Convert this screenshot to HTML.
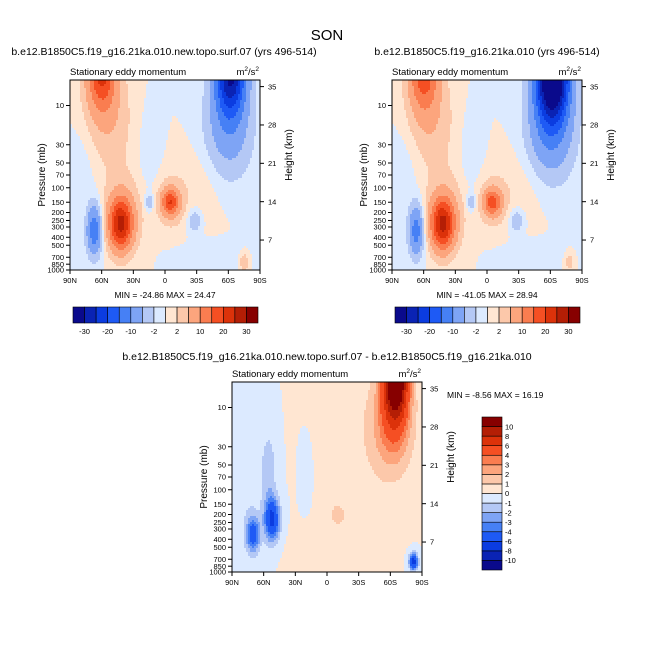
<!DOCTYPE html>
<html><head><meta charset="utf-8"><style>
body{margin:0;background:#fff}
svg{display:block;font-family:"Liberation Sans",Arial,sans-serif}
</style></head><body>
<svg id="root" width="654" height="654" viewBox="0 0 654 654">
<text x="327" y="40" font-size="15" text-anchor="middle">SON</text>
</svg>
<script>
// ----- data -----
const latTicks = [90, 60, 30, 0, -30, -60, -90];
const latTickLabels = ["90N", "60N", "30N", "0", "30S", "60S", "90S"];
const presTicks = [10, 30, 50, 70, 100, 150, 200, 250, 300, 400, 500, 700, 850, 1000];
const heightTicks = [7, 14, 21, 28, 35];
const topLevels = [-30, -25, -20, -15, -10, -5, -2, 0, 2, 5, 10, 15, 20, 25, 30];
const topLevelLabels = ["-30", "-20", "-10", "-2", "2", "10", "20", "30"];
const diffLevels = [-10, -8, -6, -4, -3, -2, -1, 0, 1, 2, 3, 4, 6, 8, 10];
const palette = ["#0a0a8c","#0a23b4","#0b3ce0","#1e5af5","#4680f5","#7ea4f5","#b4c8f5","#dceaff",
                 "#ffe6d2","#fcc8aa","#fca57d","#fa7d50","#f54f23","#dc320a","#b41e05","#870000"];
// anomaly features: [lat, pressure(mb), amplitude, latWidth, logPressureWidth]
const leftFeatures = [
 [60,4,20,13,0.42],[55,15,5,22,0.6],[-62,4,-30,14,0.5],[-60,20,-7,22,0.6],
 [67,330,-14,7,0.3],[42,280,23,11,0.3],[40,200,5,18,0.45],[-5,150,16,8,0.15],
 [-5,150,4,13,0.3],[15,150,-5,4,0.1],[-28,250,-4.5,7,0.15],[-75,800,5,4,0.1],
 [75,40,-1.5,18,0.5],[15,40,-1.2,12,0.6],[-30,100,1.5,28,0.5],[-40,700,-1.2,28,0.2]];
const rightFeatures = [
 [60,4,17,13,0.42],[55,15,5,22,0.6],[-62,4,-44,15,0.55],[-60,20,-9,22,0.6],
 [67,330,-13,7,0.3],[42,280,23,11,0.3],[40,200,5,18,0.45],[-5,150,14,8,0.15],
 [-5,150,4,13,0.3],[15,150,-5,4,0.1],[-28,250,-4.5,7,0.15],[-78,800,4,4,0.1],
 [75,40,-1.5,18,0.5],[15,40,-1.2,12,0.6],[-30,100,1.5,28,0.5],[-40,700,-1.2,28,0.2]];
const diffFeatures = [
 [-65,4,14,11,0.5],[-62,15,3.5,19,0.6],[52,230,-6.5,7,0.25],[70,350,-5,6,0.2],
 [55,60,-1.6,7,0.5],[-82,750,-7,4,0.1],[-10,200,1.2,8,0.15],[-30,30,0.6,35,1],
 [75,100,-0.8,15,1],[-10,600,0.6,35,0.3],[20,60,-0.5,6,0.4]];
const minmax = {left:["-24.86","24.47"], right:["-41.05","28.94"], diff:["-8.56","16.19"]};

// ----- drawing -----
const NS = "http://www.w3.org/2000/svg";
const root = document.getElementById("root");
function el(tag, attrs, parent, txt){
  const e = document.createElementNS(NS, tag);
  for (const k in attrs) e.setAttribute(k, attrs[k]);
  if (txt !== undefined) e.textContent = txt;
  (parent || root).appendChild(e); return e;
}
const W = 190, H = 190, LP0 = 0.69, LP1 = 3;
function field(feats, lat, p){
  const lp = Math.log10(p); let v = 0;
  for (const f of feats){
    const a = (lat - f[0]) / f[3], b = (lp - Math.log10(f[1])) / f[4];
    v += f[2] * Math.exp(-a*a - b*b);
  }
  return v;
}
function colorFor(v, levels){
  let i = 0; while (i < levels.length && v >= levels[i]) i++;
  return palette[i];
}
function panel(name, ox, oy, feats, levels, title){
  const g = el("g", {}, root);
  
  
  const xOf = lat => ox + (90 - lat) / 180 * W;
  const yOfP = p => oy + H * (Math.log10(p) - LP0) / (LP1 - LP0);
  const cs = 2;
  const cells = el("g", {"shape-rendering":"crispEdges"}, g);
  
  
  for (let j = 0; j < H; j += cs){
    const p = Math.pow(10, LP0 + (j + cs/2) / H * (LP1 - LP0));
    let i = 0;
    while (i < W){
      const lat = 90 - (i + cs/2) / W * 180;
      const c = colorFor(field(feats, lat, p), levels);
      let k = i + cs;
      while (k < W && colorFor(field(feats, 90 - (k + cs/2) / W * 180, p), levels) === c) k += cs;
      el("rect", {x: ox + i, y: oy + j, width: Math.min(k, W) - i, height: cs, fill: c}, cells);
      i = k;
    }
  }
  el("rect", {x: ox, y: oy, width: W, height: H, fill: "none", stroke: "#000", "stroke-width": 1}, g);
  latTicks.forEach((lat, i) => {
    const x = xOf(lat);
    el("line", {x1: x, y1: oy + H, x2: x, y2: oy + H + 4, stroke: "#000"}, g);
    const t = el("text", {x: x, y: oy + H + 13, "font-size": 7.5, "text-anchor": "middle"}, g, latTickLabels[i]);
    
    
  });
  presTicks.forEach(p => {
    const y = yOfP(p);
    el("line", {x1: ox - 4, y1: y, x2: ox, y2: y, stroke: "#000"}, g);
    const t = el("text", {x: ox - 6, y: y + 2.7, "font-size": 7.5, "text-anchor": "end"}, g, String(p));
    
    
  });
  heightTicks.forEach(z => {
    const y = oy + H + 8.4 - z * 5.48;
    el("line", {x1: ox + W, y1: y, x2: ox + W + 4, y2: y, stroke: "#000"}, g);
    const t = el("text", {x: ox + W + 8, y: y + 2.7, "font-size": 7.5}, g, String(z));
    
    
  });
  const yl = el("text", {x: 0, y: 0, "font-size": 10, "text-anchor": "middle",
    transform: `translate(${ox - 25},${oy + H/2}) rotate(-90)`}, g, "Pressure (mb)");
  
  
  const hl = el("text", {x: 0, y: 0, "font-size": 10, "text-anchor": "middle",
    transform: `translate(${ox + W + 32},${oy + H/2 - 20}) rotate(-90)`}, g, "Height (km)");
  
  
  const st = el("text", {x: ox, y: oy - 5, "font-size": 9.5}, g, "Stationary eddy momentum");
  
  
  const un = el("text", {x: ox + W - 1, y: oy - 5, "font-size": 9.5, "text-anchor": "end"}, g);
  un.innerHTML = 'm<tspan dy="-4" font-size="6.5">2</tspan><tspan dy="4">/s</tspan><tspan dy="-4" font-size="6.5">2</tspan>';
  
  
  if (title){
    const tt = el("text", {x: title[1], y: title[2], "font-size": 10.5, "text-anchor": "middle"}, g, title[0]);
    
    
  }
}
function hColorbar(name, x0, y0, w, h, labels){
  const g = el("g", {}, root);
  
  
  const n = palette.length, bw = w / n;
  palette.forEach((c, i) => el("rect", {x: x0 + i*bw, y: y0, width: bw, height: h, fill: c, stroke: "#000", "stroke-width": 0.6}, g));
  labels.forEach((l, k) => {
    const t = el("text", {x: x0 + (2*k + 1) * bw, y: y0 + h + 11, "font-size": 7.5, "text-anchor": "middle"}, g, l);
    
    
  });
}
function vColorbar(name, x0, y0, w, h, levels){
  const g = el("g", {}, root);
  
  
  const n = palette.length, bh = h / n;
  palette.forEach((c, i) => el("rect", {x: x0, y: y0 + (n - 1 - i) * bh, width: w, height: bh, fill: c, stroke: "#000", "stroke-width": 0.6}, g));
  levels.forEach((l, i) => {
    const t = el("text", {x: x0 + w + 3, y: y0 + (n - 1 - i) * bh + 2.7, "font-size": 7.5}, g, String(l));
    
    
  });
}
function mm(x, y, v, anchor){
  const t = el("text", {x: x, y: y, "font-size": 8.5, "text-anchor": anchor, "xml:space": "preserve"}, root,
    "MIN = " + v[0] + "  MAX = " + v[1]);
  
  
}
panel("left-panel", 70, 80, leftFeatures, topLevels, ["b.e12.B1850C5.f19_g16.21ka.010.new.topo.surf.07 (yrs 496-514)", 164, 55]);
panel("right-panel", 392, 80, rightFeatures, topLevels, ["b.e12.B1850C5.f19_g16.21ka.010 (yrs 496-514)", 487, 55]);
panel("diff-panel", 232, 382, diffFeatures, diffLevels, ["b.e12.B1850C5.f19_g16.21ka.010.new.topo.surf.07 - b.e12.B1850C5.f19_g16.21ka.010", 327, 360]);
mm(165, 298, minmax.left, "middle");
mm(487, 298, minmax.right, "middle");
mm(447, 398, minmax.diff, "start");
hColorbar("left-colorbar", 73, 307, 185, 16, topLevelLabels);
hColorbar("right-colorbar", 395, 307, 185, 16, topLevelLabels);
vColorbar("diff-colorbar", 482, 417, 20, 153, diffLevels);
</script>
</body></html>
